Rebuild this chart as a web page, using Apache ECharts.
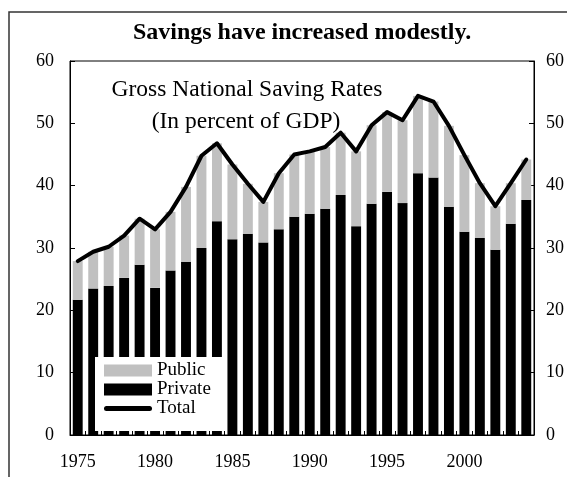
<!DOCTYPE html>
<html>
<head>
<meta charset="utf-8">
<script src="https://cdn.jsdelivr.net/npm/echarts@6/dist/echarts.min.js"></script>
<style>
html,body{margin:0;padding:0;background:#fff;}
#c{width:567px;height:477px;}
</style>
</head>
<body>
<div id="c"></div>
<script>
var years = ['1975','1976','1977','1978','1979','1980','1981','1982','1983','1984','1985','1986','1987','1988','1989','1990','1991','1992','1993','1994','1995','1996','1997','1998','1999','2000','2001','2002','2003','2004'];
var privateSaving = [21.7,23.5,23.9,25.2,27.3,23.6,26.4,27.8,30.0,34.3,31.4,32.3,30.9,33.0,35.0,35.5,36.3,38.5,33.5,37.1,39.0,37.2,42.0,41.3,36.6,32.6,31.6,29.7,33.9,37.7];
var publicSaving = [6.2,5.9,6.3,6.8,7.4,9.4,9.4,12.0,14.8,12.5,12.0,8.0,6.5,9.0,10.0,10.0,9.9,10.0,12.0,12.6,12.8,13.3,12.4,12.2,13.0,12.3,8.8,7.0,6.5,6.5];
var totalSaving = [27.9,29.4,30.2,32.0,34.7,33.0,35.8,39.8,44.8,46.8,43.4,40.3,37.4,42.0,45.0,45.5,46.2,48.5,45.5,49.7,51.8,50.5,54.4,53.5,49.6,44.9,40.4,36.7,40.4,44.2];
var yTicks = [0,10,20,30,40,50,60];

var FONT = "'Liberation Serif','Times New Roman',serif";
var chart = echarts.init(document.getElementById('c'), null, {renderer:'canvas'});
var yAxisBase = {
  type:'value', min:yTicks[0], max:yTicks[yTicks.length-1], interval:10,
  splitLine:{show:false},
  axisLine:{show:true, lineStyle:{color:'#000', width:1}},
  axisTick:{show:true, inside:true, length:5, lineStyle:{color:'#000'}},
  axisLabel:{color:'#000', fontFamily:FONT, fontSize:18}
};
chart.setOption({
  animation:false,
  backgroundColor:'#fff',
  grid:{left:70, right:30, top:61, bottom:42, show:true, borderColor:'#000', borderWidth:1},
  graphic:[
    {type:'rect', shape:{x:9, y:12, width:700, height:600}, style:{fill:'none', stroke:'#333', lineWidth:1.5}, silent:true},
    {type:'text', x:302, y:21, style:{text:'Savings have increased modestly.', font:'bold 24px '+FONT, fill:'#000', textAlign:'center', textVerticalAlign:'top'}},
    {type:'text', x:247, y:78, z:10, style:{text:'Gross National Saving Rates', font:'23.5px '+FONT, fill:'#000', textAlign:'center', textVerticalAlign:'top'}},
    {type:'text', x:246, y:110, z:10, style:{text:'(In percent of GDP)', font:'23.5px '+FONT, fill:'#000', textAlign:'center', textVerticalAlign:'top'}}
  ],
  legend:{
    orient:'vertical', left:95, top:357,
    backgroundColor:'#fff', padding:[4,13,13,9], itemGap:0,
    itemWidth:48, itemHeight:12, symbolKeepAspect:true,
    textStyle:{fontFamily:FONT, fontSize:19, color:'#000', lineHeight:16.5},
    data:[
      {name:'Public', icon:'rect'},
      {name:'Private', icon:'rect'},
      {name:'Total', icon:'path://M2.5,0 L45.5,0 A2.5,2.5 0 0 1 45.5,5 L2.5,5 A2.5,2.5 0 0 1 2.5,0 Z'}
    ]
  },
  xAxis:{
    type:'category', data:years,
    axisLine:{show:true, lineStyle:{color:'#000', width:1}},
    axisTick:{show:true, inside:true, length:4, interval:0, lineStyle:{color:'#000'}},
    axisLabel:{interval:4, color:'#000', fontFamily:FONT, fontSize:18, margin:18}
  },
  yAxis:[
    Object.assign({}, yAxisBase, {position:'left', axisLabel:Object.assign({}, yAxisBase.axisLabel, {margin:16})}),
    Object.assign({}, yAxisBase, {position:'right', axisLabel:Object.assign({}, yAxisBase.axisLabel, {margin:12})})
  ],
  series:[
    {name:'Private', type:'bar', stack:'s', data:privateSaving, barWidth:'64%', itemStyle:{color:'#000'}},
    {name:'Public', type:'bar', stack:'s', data:publicSaving, barWidth:'64%', itemStyle:{color:'#c0c0c0'}},
    {name:'Total', type:'line', data:totalSaving, symbol:'none', z:5,
     lineStyle:{color:'#000', width:4, cap:'round', join:'round'}, itemStyle:{color:'#000'}}
  ]
});
</script>
</body>
</html>
